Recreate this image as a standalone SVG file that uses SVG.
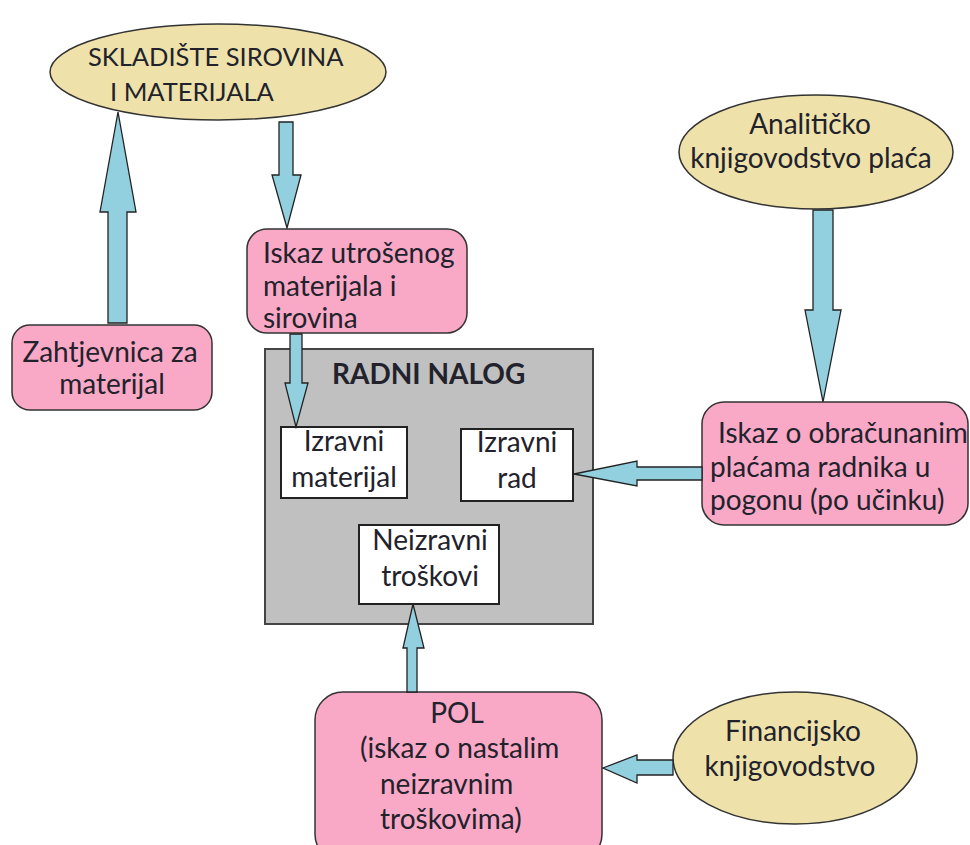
<svg xmlns="http://www.w3.org/2000/svg" width="970" height="845" viewBox="0 0 970 845">
<defs>
<style>
.ell{fill:#eee2aa;stroke:#333;stroke-width:1.5}
.pink{fill:#f9a9c6;stroke:#333;stroke-width:1.5}
.white{fill:#fff;stroke:#222;stroke-width:2}
.gray{fill:#c0c0c0;stroke:#444;stroke-width:2}
.arr{fill:#92d0e0;stroke:#222;stroke-width:1.3;stroke-linejoin:miter}
text{font-family:Lato,"Open Sans","Liberation Sans",sans-serif;font-size:28px;fill:#22222c}
.c{text-anchor:middle}
.b{font-weight:bold}
.cap{font-size:25.5px}
</style>
</defs>
<rect width="970" height="845" fill="#fff"/>
<g id="connectors">
<polygon class="arr" points="108,323 108,212 100,212 118,112 136,212 127,212 127,323"/>
<polygon class="arr" points="279,122 293,122 293,175 301,175 287,228 272,175 279,175"/>
<polygon class="arr" points="813,210 833,210 833,310 841,310 823,402 805,310 813,310"/>
</g>
<g id="skladiste">
<ellipse class="ell" cx="218" cy="72" rx="168" ry="48"/>
<text class="cap" x="88" y="66">SKLADIŠTE SIROVINA</text>
<text class="cap" x="110" y="101">I MATERIJALA</text>
</g>
<g id="zahtjevnica">
<rect class="pink" x="12" y="325" width="200" height="85" rx="18"/>
<text class="c" x="110" y="362">Zahtjevnica za</text>
<text class="c" x="112" y="394">materijal</text>
</g>
<g id="iskaz-utrosenog">
<rect class="pink" x="247" y="229" width="220" height="104" rx="20"/>
<text x="263" y="263">Iskaz utrošenog</text>
<text x="263" y="296">materijala i</text>
<text x="263" y="328">sirovina</text>
</g>
<g id="radni-nalog">
<rect class="gray" x="265" y="349" width="328" height="275"/>
<text class="b" x="332" y="384" font-size="24">RADNI NALOG</text>
</g>
<g id="izravni-materijal">
<rect class="white" x="281" y="427" width="126" height="71"/>
<text class="c" x="344" y="451">Izravni</text>
<text class="c" x="344" y="487">materijal</text>
</g>
<g id="izravni-rad">
<rect class="white" x="461" y="429" width="112" height="72"/>
<text class="c" x="517" y="452">Izravni</text>
<text class="c" x="517" y="488">rad</text>
</g>
<g id="neizravni">
<rect class="white" x="359" y="525" width="140" height="79"/>
<text class="c" x="430" y="550">Neizravni</text>
<text class="c" x="430" y="586">troškovi</text>
</g>
<g id="analiticko">
<ellipse class="ell" cx="816" cy="152" rx="137" ry="57"/>
<text class="c" x="810" y="134">Analitičko</text>
<text class="c" x="811" y="168">knjigovodstvo plaća</text>
</g>
<g id="iskaz-obracunanim">
<rect class="pink" x="702" y="402" width="266" height="123" rx="22"/>
<text x="718" y="443">Iskaz o obračunanim</text>
<text x="710" y="477">plaćama radnika u</text>
<text x="710" y="510">pogonu (po učinku)</text>
</g>
<g id="pol">
<rect class="pink" x="315" y="692" width="287" height="170" rx="28"/>
<text class="c" x="457" y="723">POL</text>
<text x="360" y="758">(iskaz o nastalim</text>
<text x="380" y="794">neizravnim</text>
<text x="380" y="829">troškovima)</text>
</g>
<g id="financijsko">
<ellipse class="ell" cx="795" cy="758" rx="122" ry="66"/>
<text class="c" x="793" y="741">Financijsko</text>
<text class="c" x="790" y="776">knjigovodstvo</text>
</g>
<g id="connectors2">
<polygon class="arr" points="290,334 302,334 302,383 308,383 296,427 285,383 290,383"/>
<polygon class="arr" points="702,467 702,480 637,480 637,486 574,474 637,461 637,467"/>
<polygon class="arr" points="407,692 407,648 403,648 413,604 424,648 417,648 417,692"/>
<polygon class="arr" points="673,760 673,775 637,775 637,783 603,768 637,755 637,760"/>
</g>
</svg>
